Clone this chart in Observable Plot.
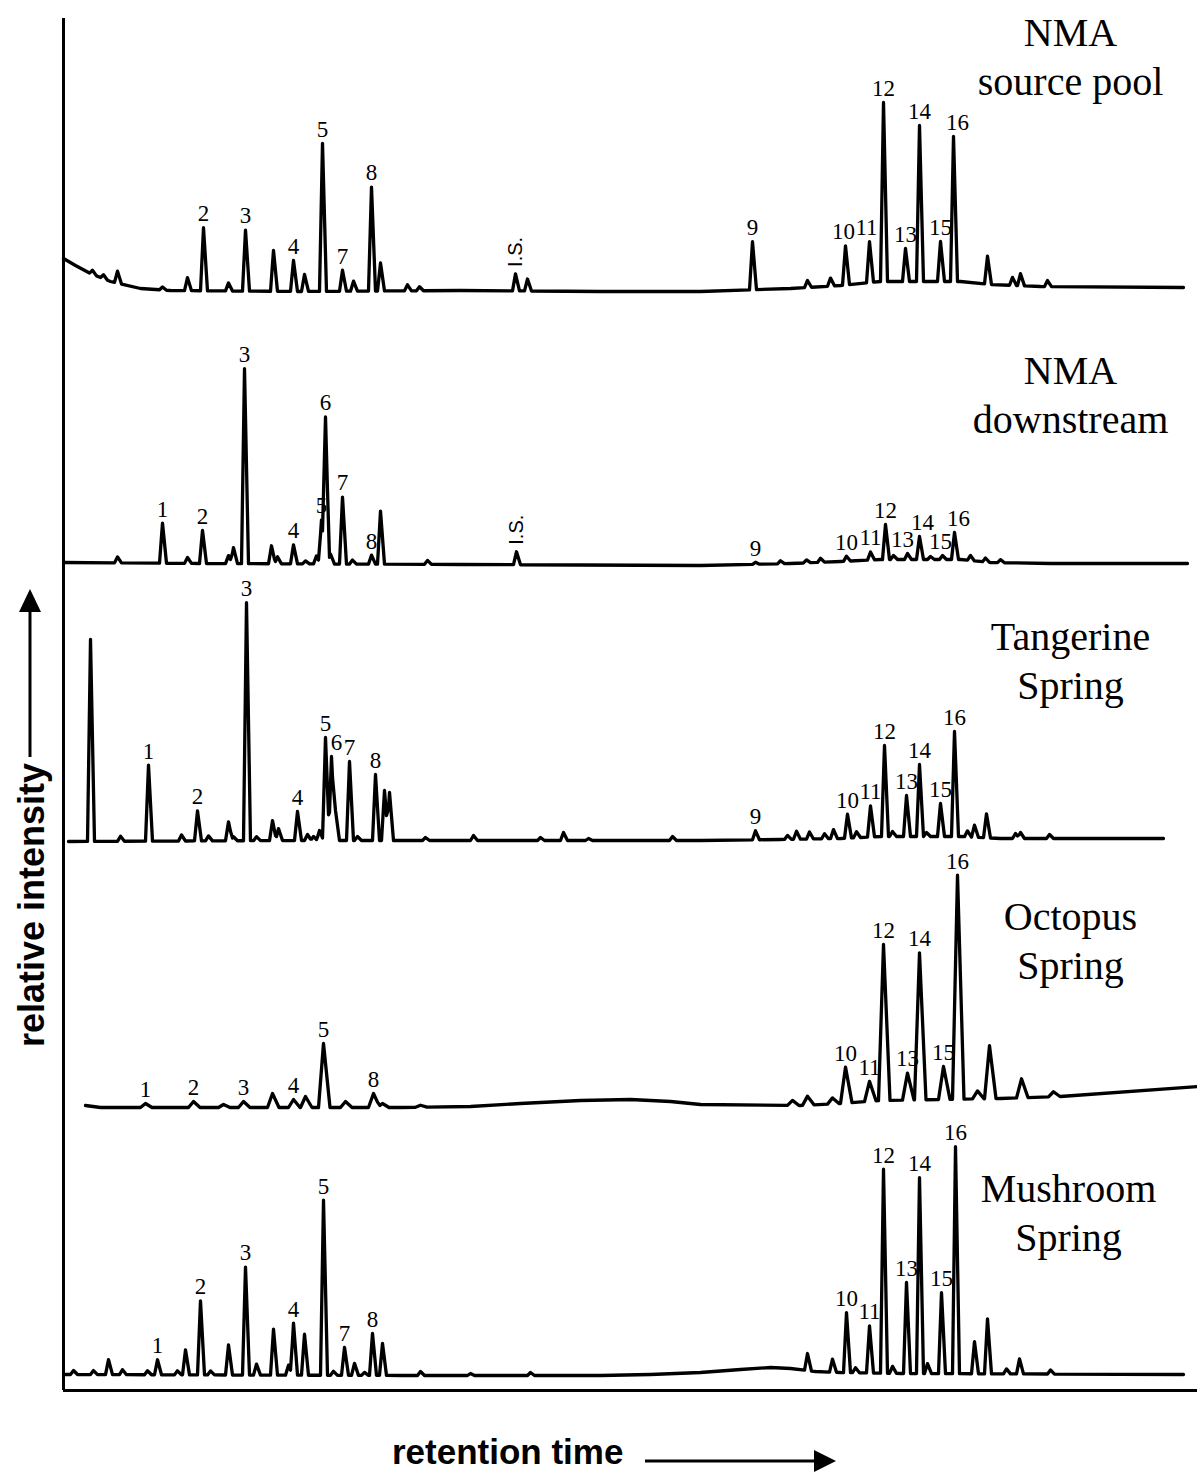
<!DOCTYPE html>
<html>
<head>
<meta charset="utf-8">
<script src="https://cdn.jsdelivr.net/npm/d3@7"></script>
<script src="https://cdn.jsdelivr.net/npm/@observablehq/plot@0.6"></script>
<style>
  html, body { margin: 0; padding: 0; background: #fff; }
  #chart svg { display: block; }
</style>
</head>
<body>
<div id="chart"></div>
<script>
// ---------------- DATA ----------------
// Retention time in arbitrary units; intensity in arbitrary stacked units.
const traceNames = ["NMA\nsource pool", "NMA\ndownstream", "Tangerine\nSpring", "Octopus\nSpring", "Mushroom\nSpring"];

// Baselines: [retention time, baseline level]
const sourcePoolBase = [[63,1132],[75,1125],[90,1117],[110,1109],[140,1102],[170,1100],[300,1099],[460,1100],[600,1099],[700,1099],[790,1102],[840,1105],[880,1109],[960,1109],[990,1106],[1040,1104],[1183,1103]];
const downstreamBase = [[63,828],[200,827],[460,826],[700,825],[790,827],[840,829],[880,831],[960,831],[990,828],[1050,827],[1187,827]];
const tangerineBase = [[68,549],[300,550],[700,550],[780,551],[840,552],[880,554],[960,554],[1000,552],[1163,552]];
const octopusBase = [[85,285],[100,283],[400,283],[470,284],[520,287],[580,290],[630,291],[670,289],[700,286],[800,285],[840,287],[880,290],[1000,292],[1060,294],[1197,304]];
const mushroomBase = [[65,16],[400,15],[600,15],[650,16],[700,18],[740,21],[770,23],[790,22],[815,19],[840,18],[900,17],[1183,16]];

// Peaks: [retention time, height above baseline, peak label]
const sourcePoolPeaks = [[92,4,""],[103,4,""],[117,12,""],[162,3,""],[187,13,""],[203,63,"2"],[228,8,""],[245,61,"3"],[273,41,""],[293,31,"4"],[304,17,""],[322,148,"5"],[342,21,"7"],[353,10,""],[371,104,"8"],[380,28,""],[407,6,""],[419,4,""],[515,17,"I.S."],[527,12,""],[752,48,"9"],[807,7,""],[830,8,""],[845,39,"10"],[869,41,"11"],[883,179,"12"],[905,33,"13"],[919,156,"14"],[940,40,"15"],[953,145,"16"],[987,28,""],[1012,8,""],[1020,12,""],[1047,6,""]];
const downstreamPeaks = [[117,6,""],[162,40,"1"],[187,6,""],[202,33,"2"],[228,8,""],[233,16,""],[244,195,"3"],[271,18,""],[277,7,""],[293,19,"4"],[305,3,""],[316,8,""],[321,44,"5"],[325,147,"6"],[330,10,""],[342,67,"7"],[352,4,""],[371,9,"8"],[380,53,""],[427,4,""],[516,13,"I.S."],[755,2,"9"],[780,3,""],[806,3,""],[820,4,""],[846,5,"10"],[870,8,"11"],[885,35,"12"],[893,4,""],[907,6,"13"],[919,23,"14"],[930,3,""],[942,4,"15"],[954,27,"16"],[970,5,""],[985,4,""],[1000,3,""]];
const tangerinePeaks = [[90,202,""],[120,5,""],[148,76,"1"],[181,6,""],[197,30,"2"],[208,5,""],[228,19,""],[233,4,""],[246,238,"3"],[256,4,""],[272,20,""],[278,12,""],[297,29,"4"],[307,6,""],[313,4,""],[319,10,""],[325,103,"5"],[331,84,"6"],[335,30,""],[349,79,"7"],[357,4,""],[375,66,"8"],[384,50,""],[389,48,""],[425,3,""],[473,5,""],[540,3,""],[563,8,""],[588,2,""],[672,4,""],[755,9,"9"],[787,4,""],[796,8,""],[809,7,""],[824,5,""],[833,9,""],[847,24,"10"],[856,6,""],[870,31,"11"],[884,91,"12"],[892,5,""],[906,41,"13"],[919,72,"14"],[926,4,""],[940,33,"15"],[954,105,"16"],[967,6,""],[974,12,""],[986,24,""],[1015,5,""],[1020,6,""],[1049,4,""]];
const octopusPeaks = [[145,4,"1"],[193,6,"2"],[223,3,""],[243,6,"3"],[272,14,""],[293,8,"4"],[305,11,""],[323,64,"5"],[345,6,""],[373,14,"8"],[382,4,""],[420,2,""],[792,5,""],[807,9,""],[832,6,""],[845,36,"10"],[869,20,"11"],[883,156,"12"],[907,27,"13"],[919,147,"14"],[943,33,"15"],[957,224,"16"],[977,8,""],[989,53,""],[1021,19,""],[1053,5,""]];
const mushroomPeaks = [[73,4,""],[93,4,""],[108,15,""],[122,5,""],[147,4,""],[157,15,"1"],[177,4,""],[185,25,""],[200,74,"2"],[210,4,""],[228,30,""],[245,108,"3"],[256,11,""],[273,46,""],[288,10,""],[293,52,"4"],[304,41,""],[323,175,"5"],[333,4,""],[344,28,"7"],[354,12,""],[364,3,""],[372,42,"8"],[382,32,""],[420,4,""],[470,2,""],[530,3,""],[807,17,""],[832,13,""],[846,60,"10"],[855,5,""],[869,47,"11"],[883,204,"12"],[892,7,""],[906,91,"13"],[919,196,"14"],[927,10,""],[941,81,"15"],[955,227,"16"],[974,32,""],[987,55,""],[1006,5,""],[1019,15,""],[1050,4,""]];

// ---------------- BUILD ----------------
const traceBases = [sourcePoolBase, downstreamBase, tangerineBase, octopusBase, mushroomBase];
const tracePeaks = [sourcePoolPeaks, downstreamPeaks, tangerinePeaks, octopusPeaks, mushroomPeaks];
// drawing style: peak half-widths (left, right) per trace
const peakShape = [[3, 4], [3, 4], [3, 4], [5, 6.5], [3, 4]];
// label placement nudges (px) to keep crowded labels apart, keyed "trace|label"
const labelNudge = {"1|13": -5, "1|14": 3, "1|15": -2, "1|16": 4, "2|6": 5, "0|10": -2, "0|11": -3, "0|16": 4};

const linePoints = [];
const peakLabels = [];
const isLabels = [];
traceNames.forEach((name, t) => {
  const knots = traceBases[t];
  const peaks = tracePeaks[t];
  const [wl, wr] = peakShape[t];
  const base = d3.scaleLinear().domain(knots.map(k => k[0])).range(knots.map(k => k[1])).clamp(true);
  const x0 = knots[0][0], x1 = knots[knots.length - 1][0];
  const signal = x => base(x) + d3.sum(peaks, ([r, h]) => {
    const d = x - r; const w = d < 0 ? wl : wr;
    return Math.max(0, h * (1 - Math.abs(d) / w));
  });
  const xs = new Set(knots.map(k => k[0]));
  peaks.forEach(([r]) => { xs.add(r - wl); xs.add(r); xs.add(r + wr); });
  [...xs].filter(x => x >= x0 && x <= x1).sort((a, b) => a - b)
    .forEach(x => linePoints.push({trace: name, x, y: signal(x)}));
  peaks.forEach(([r, h, lab]) => {
    if (lab === "I.S.") isLabels.push({trace: name, x: r, y: signal(r), label: lab});
    else if (lab) peakLabels.push({trace: name, x: r, y: signal(r), label: lab, dx: labelNudge[t + "|" + lab] || 0});
  });
});

// trace name placement (annotation layout)
const nameLayout = [[1070, 1336], [1070, 998], [1070, 732], [1070, 452], [1068, 180]];
const nameData = traceNames.map((n, i) => ({name: n, x: nameLayout[i][0], y: nameLayout[i][1]}));

const serif = "'Liberation Serif', 'Times New Roman', Times, serif";
const sans = "'Liberation Sans', Arial, Helvetica, sans-serif";

const svg = Plot.plot({
  width: 1197,
  height: 1473,
  marginLeft: 63,
  marginRight: 0,
  marginTop: 18,
  marginBottom: 83,
  x: {domain: [63, 1197], axis: null},
  y: {domain: [0, 1372], axis: null},
  style: {background: "white", overflow: "visible"},
  marks: [
    Plot.line(linePoints, {x: "x", y: "y", z: "trace", stroke: "black", strokeWidth: 3.3, strokeLinejoin: "round", strokeLinecap: "round", curve: "linear"}),
    Plot.text(peakLabels, {x: d => d.x + d.dx, y: "y", text: "label", dy: -14, fontSize: 23, fontFamily: serif, textAnchor: "middle", lineAnchor: "middle", fill: "black"}),
    Plot.text(isLabels, {x: "x", y: "y", text: "label", rotate: -90, dy: -7, fontSize: 20, fontFamily: sans, textAnchor: "start", lineAnchor: "middle", fill: "black"}),
    Plot.text(nameData, {x: "x", y: "y", text: "name", fontSize: 40, lineHeight: 1.22, fontFamily: serif, textAnchor: "middle", lineAnchor: "middle", fill: "black"}),
    Plot.ruleX([63], {stroke: "black", strokeWidth: 3}),
    Plot.ruleY([0], {stroke: "black", strokeWidth: 3})
  ]
});

// axis titles with arrows
const s = d3.select(svg);
const g = s.append("g");
g.append("text")
  .attr("x", 392).attr("y", 1464)
  .attr("text-anchor", "start")
  .attr("font-family", sans).attr("font-weight", "bold").attr("font-size", 35)
  .attr("fill", "black").text("retention time");
g.append("line").attr("x1", 645).attr("y1", 1461).attr("x2", 818).attr("y2", 1461)
  .attr("stroke", "black").attr("stroke-width", 3);
g.append("path").attr("d", "M814,1450 L836,1461 L814,1472 Z").attr("fill", "black");

g.append("text")
  .attr("transform", "translate(44,905) rotate(-90)")
  .attr("text-anchor", "middle")
  .attr("font-family", sans).attr("font-weight", "bold").attr("font-size", 36)
  .attr("fill", "black").text("relative intensity");
g.append("line").attr("x1", 30).attr("y1", 757).attr("x2", 30).attr("y2", 608)
  .attr("stroke", "black").attr("stroke-width", 3);
g.append("path").attr("d", "M19,612 L30,589 L41,612 Z").attr("fill", "black");

document.getElementById("chart").appendChild(svg);
</script>
</body>
</html>
